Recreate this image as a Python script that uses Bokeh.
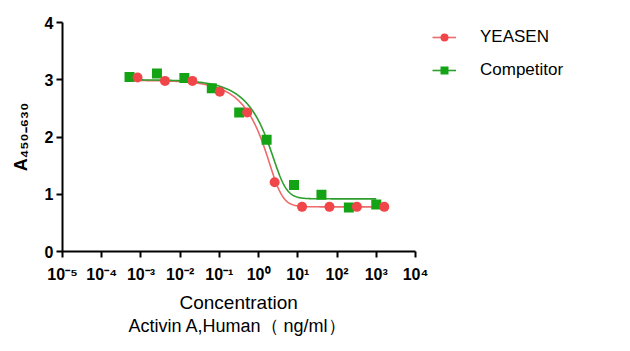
import math
import numpy as np
from bokeh.plotting import figure
from bokeh.models import Range1d, FixedTicker, Legend, LegendItem, Title
from bokeh.embed import file_html
from bokeh.resources import INLINE

# ---- data ----
conc_yeasen = [0.000819, 0.004096, 0.02048, 0.1024, 0.512, 2.56, 12.8, 64, 320, 1600]
od_yeasen = [3.04, 2.98, 2.98, 2.79, 2.43, 1.21, 0.78, 0.78, 0.78, 0.78]

conc_comp = [0.000512, 0.00256, 0.0128, 0.064, 0.32, 1.6, 8, 40, 200, 1000]
od_comp = [3.05, 3.11, 3.03, 2.85, 2.43, 1.95, 1.16, 0.99, 0.77, 0.82]

# fitted curve parameters (5PL): top, bottom, c, b, g ; curve range
fit_yeasen = dict(top=2.99, bottom=0.78, c=2.95, b=3.0, g=0.27, lo=0.0005, hi=1600)
fit_comp = dict(top=3.00, bottom=0.92, c=3.7, b=3.0, g=0.27, lo=0.0005, hi=1000)

x_tick_values = [1e-5, 1e-4, 1e-3, 1e-2, 1e-1, 1e0, 1e1, 1e2, 1e3, 1e4]
x_tick_labels = ["10⁻⁵", "10⁻⁴", "10⁻³", "10⁻²", "10⁻¹", "10⁰", "10¹", "10²", "10³", "10⁴"]
y_tick_values = [0, 1, 2, 3, 4]

series_names = ["YEASEN", "Competitor"]
x_title_lines = ["Concentration", "Activin A,Human（ ng/ml）"]
y_title = "A₄₅₀₋₆₃₀"


def curve(f):
    xs = np.logspace(math.log10(f["lo"]), math.log10(f["hi"]), 400)
    G = (1.0 + (f["c"] / xs) ** f["b"]) ** (-f["g"])
    ys = f["top"] - (f["top"] - f["bottom"]) * G
    return xs, ys


FONT = "Liberation Sans"
RED = "#F0464A"
RED_LINE = "#EC6B6B"
GREEN = "#14A314"
GREEN_LINE = "#2E9E2E"

# layout: axis spans px 62..415 for 1e-5..1e4; frame extends to the right edge
W, H = 630, 351
LEFT, AXIS_RIGHT, TOP, BOTTOM = 62, 415, 22, 100
decade_px = (AXIS_RIGHT - LEFT) / 9.0
x_end = 10 ** (-5 + (W - LEFT) / decade_px)

p = figure(width=W, height=H, x_axis_type="log",
           x_range=Range1d(1e-5, x_end), y_range=Range1d(0, 4),
           output_backend="svg", toolbar_location=None,
           min_border_left=LEFT, min_border_right=0,
           min_border_top=TOP, min_border_bottom=BOTTOM)
p.outline_line_color = None
p.grid.visible = False
p.background_fill_color = "white"
p.border_fill_color = "white"

cx, cy = curve(fit_yeasen)
r_line = p.line(cx, cy, line_color=RED_LINE, line_width=1.6)
gx, gy = curve(fit_comp)
g_line = p.line(gx, gy, line_color=GREEN_LINE, line_width=1.6)

g_pts = p.scatter(conc_comp, od_comp, marker="square", size=10,
                  fill_color=GREEN, line_color=None)
r_pts = p.scatter(conc_yeasen, od_yeasen, marker="circle", size=10,
                  fill_color=RED, line_color=None)

for ax in (p.xaxis[0], p.yaxis[0]):
    ax.axis_line_width = 2
    ax.axis_line_color = "black"
    ax.major_tick_line_width = 2
    ax.major_tick_line_color = "black"
    ax.major_tick_out = 6
    ax.major_tick_in = 0
    ax.minor_tick_out = 0
    ax.minor_tick_in = 0
    ax.major_label_text_font = FONT
    ax.major_label_text_font_style = "bold"
    ax.major_label_text_font_size = "16px"
    ax.major_label_text_color = "black"

p.xaxis[0].ticker = FixedTicker(ticks=x_tick_values, minor_ticks=[])
p.xaxis[0].major_label_overrides = {v: t for v, t in zip(x_tick_values, x_tick_labels)}
p.xaxis[0].major_label_standoff = 8
p.xaxis[0].bounds = (x_tick_values[0], x_tick_values[-1])
p.yaxis[0].ticker = FixedTicker(ticks=y_tick_values, minor_ticks=[])
p.yaxis[0].major_label_standoff = 3
p.yaxis[0].axis_label = y_title
p.yaxis[0].axis_label_text_font = FONT
p.yaxis[0].axis_label_text_font_style = "bold"
p.yaxis[0].axis_label_text_font_size = "18px"
p.yaxis[0].axis_label_text_color = "black"
p.yaxis[0].axis_label_standoff = 11

title_offsets = [117, 66]
title_sizes = ["19px", "18px"]
title_standoffs = [9, -8]
for line, off, sz, so in zip(x_title_lines, title_offsets, title_sizes, title_standoffs):
    t = Title(text=line, align="left", offset=off, text_font=FONT, text_font_size=sz,
              text_font_style="normal", text_color="black", standoff=so)
    p.add_layout(t, "below")

legend = Legend(items=[LegendItem(label=series_names[0], renderers=[r_line, r_pts]),
                       LegendItem(label=series_names[1], renderers=[g_line, g_pts])],
                orientation="vertical", location=(370, 171))
legend.border_line_color = None
legend.background_fill_alpha = 0
legend.label_text_font = FONT
legend.label_text_font_size = "17px"
legend.label_text_color = "black"
legend.glyph_width = 24
legend.glyph_height = 20
legend.label_height = 20
legend.spacing = 13
legend.label_standoff = 24
legend.padding = 0
legend.margin = 0
p.add_layout(legend)

open("out.html", "w").write(file_html(p, INLINE))
